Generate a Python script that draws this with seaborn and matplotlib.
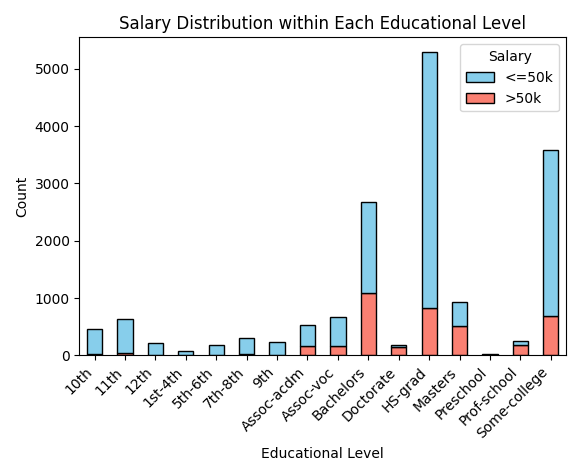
import pandas as pd
import matplotlib
matplotlib.use('Agg')
import matplotlib.pyplot as plt
import seaborn as sns

education = ['10th', '11th', '12th', '1st-4th', '5th-6th', '7th-8th', '9th', 'Assoc-acdm',
             'Assoc-voc', 'Bachelors', 'Doctorate', 'HS-grad', 'Masters', 'Preschool',
             'Prof-school', 'Some-college']
low = [430, 600, 210, 77, 170, 290, 230, 370, 520, 1580, 40, 4450, 420, 31, 70, 2900]
high = [26, 37, 14, 2, 6, 19, 12, 164, 159, 1090, 141, 833, 514, 1, 188, 687]

rows = []
for e, a, b in zip(education, low, high):
    rows.append({'education': e, 'Salary': '<=50k', 'count': a})
    rows.append({'education': e, 'Salary': '>50k', 'count': b})
df = pd.DataFrame(rows)

fig, ax = plt.subplots(figsize=(5.81, 4.76), dpi=100)
sns.histplot(data=df, x='education', weights='count', hue='Salary', multiple='stack',
             shrink=0.5, palette=['skyblue', 'salmon'], edgecolor='black', alpha=1,
             linewidth=1, ax=ax)
ax.set_title('Salary Distribution within Each Educational Level')
ax.set_xlabel('Educational Level')
ax.set_ylabel('Count')
ax.set_xlim(-0.5, len(education) - 0.5)
plt.xticks(rotation=45, ha='right')
plt.tight_layout()
plt.savefig('out.png')
